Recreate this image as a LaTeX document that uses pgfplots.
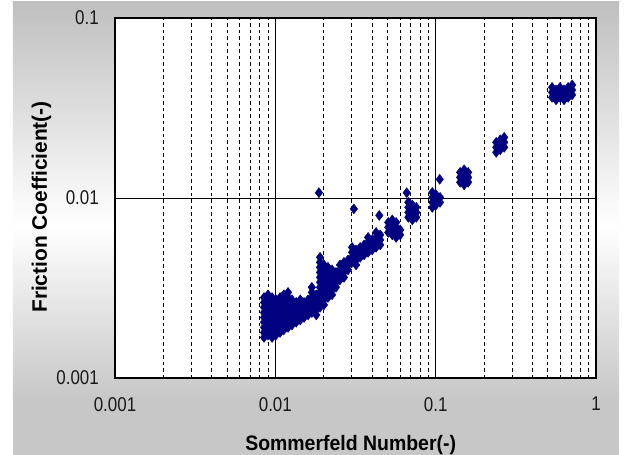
\documentclass[border=0pt]{standalone}
\usepackage{pgfplots}
\pgfplotsset{compat=1.18}
\usepackage{fontspec}
\setmainfont{Liberation Sans}
\definecolor{navy}{RGB}{0,0,128}
\begin{document}
\begin{tikzpicture}[x=1bp,y=1bp]
\path[use as bounding box] (-115,-77) rectangle (509,378);
\fill[white] (-115,-77) rectangle (509,378);
\fill[black!22] (-102,-77) rectangle (504,-22);
\shade[top color=white,bottom color=black!22] (-102,-22) rectangle (504,153);
\shade[top color=black!25,bottom color=white] (-102,153) rectangle (504,376);
\begin{axis}[
  at={(0,0)}, anchor=south west, scale only axis,
  width=481bp, height=360bp,
  xmode=log, ymode=log,
  xmin=0.001, xmax=1, ymin=0.001, ymax=0.1,
  axis background/.style={fill=white},
  axis line style={line width=2bp},
  xtick={0.001,0.01,0.1,1},
  xticklabels={\scalebox{0.85}[1]{0.001},\scalebox{0.85}[1]{0.01},\scalebox{0.85}[1]{0.1},\scalebox{0.85}[1]{1}},
  ytick={0.001,0.01,0.1},
  yticklabels={\scalebox{0.85}[1]{0.001},\scalebox{0.85}[1]{0.01},\scalebox{0.85}[1]{0.1}},
  minor xtick={0.002,0.003,0.004,0.005,0.006,0.007,0.008,0.009,0.02,0.03,0.04,0.05,0.06,0.07,0.08,0.09,0.2,0.3,0.4,0.5,0.6,0.7,0.8,0.9},
  minor ytick={},
  major tick length=0pt, minor tick length=0pt,
  xmajorgrids, xminorgrids, ymajorgrids,
  major grid style={black, line width=0.8bp, solid},
  minor grid style={black, line width=0.7bp, dash pattern=on 3.5bp off 3bp},
  tick label style={font=\fontsize{20}{20}\selectfont, inner sep=0pt, text=black!90},
  xticklabel style={anchor=north, yshift=-19bp},
  yticklabel style={anchor=east, xshift=-16bp},
  xlabel={\scalebox{0.93}[1]{Sommerfeld Number(-)}},
  ylabel={Friction Coefficient(-)},
  label style={font=\fontsize{21}{21}\selectfont\bfseries},
  xlabel style={at={(axis description cs:0.49,-0.2014)}, anchor=base},
  ylabel style={at={(axis description cs:-0.1414,0.475)}, anchor=base, rotate=0},
  clip=false,
]
\addplot[only marks, mark=diamond*, mark size=5bp, color=navy, mark options={line width=0.4bp}] coordinates {
(0.0085,0.00168)(0.0085,0.00179)(0.0085,0.00191)(0.0085,0.00204)(0.0085,0.00217)(0.0085,0.00231)(0.0085,0.00247)(0.0085,0.00263)(0.0085,0.00280)
(0.0090,0.001735)(0.0090,0.00185)(0.0090,0.00197)(0.0090,0.00210)(0.0090,0.00224)(0.0090,0.00239)(0.0090,0.00255)(0.0090,0.00272)(0.0090,0.00290)
(0.00954,0.00168)(0.00954,0.00179)(0.00954,0.00191)(0.00954,0.00204)(0.00954,0.00217)(0.00954,0.00231)(0.00954,0.00247)(0.00954,0.00263)(0.00954,0.00280)
(0.0101,0.001735)(0.0101,0.00185)(0.0101,0.00197)(0.0101,0.00210)(0.0101,0.00224)(0.0101,0.00239)(0.0101,0.00255)(0.0101,0.00272)
(0.0107,0.00179)(0.0107,0.00191)(0.0107,0.00204)(0.0107,0.00217)(0.0107,0.00231)(0.0107,0.00247)(0.0107,0.00263)(0.0107,0.00280)
(0.0113,0.00185)(0.0113,0.00197)(0.0113,0.00210)(0.0113,0.00224)(0.0113,0.00239)(0.0113,0.00255)(0.0113,0.00272)(0.0113,0.00290)
(0.0120,0.00191)(0.0120,0.00204)(0.0120,0.00217)(0.0120,0.00231)(0.0120,0.00247)(0.0120,0.00263)(0.0120,0.00280)(0.0120,0.00299)
(0.0127,0.00197)(0.0127,0.00210)(0.0127,0.00224)(0.0127,0.00239)(0.0127,0.00255)(0.0127,0.00272)
(0.0135,0.00204)(0.0135,0.00217)(0.0135,0.00231)(0.0135,0.00247)(0.0135,0.00263)
(0.0143,0.00210)(0.0143,0.00224)(0.0143,0.00239)(0.0143,0.00255)(0.0143,0.00272)
(0.0151,0.00217)(0.0151,0.00231)(0.0151,0.00247)(0.0151,0.00263)
(0.0160,0.00224)(0.0160,0.00239)(0.0160,0.00255)(0.0160,0.00272)
(0.0169,0.00231)(0.0169,0.00247)(0.0169,0.00263)(0.0169,0.00280)(0.0169,0.00299)(0.0169,0.00319)
(0.0180,0.00224)(0.0180,0.00239)(0.0180,0.00255)(0.0180,0.00272)(0.0180,0.00290)
(0.0190,0.00247)(0.0190,0.00263)(0.0190,0.00280)(0.0190,0.00299)(0.0190,0.00319)(0.0190,0.00340)(0.0190,0.00362)(0.0190,0.00386)(0.0190,0.00412)(0.0190,0.00439)(0.0190,0.00468)
(0.0201,0.00255)(0.0201,0.00272)(0.0201,0.00290)(0.0201,0.00309)(0.0201,0.00329)(0.0201,0.00351)(0.0201,0.00374)(0.0201,0.00399)(0.0201,0.00425)
(0.0213,0.00280)(0.0213,0.00299)(0.0213,0.00319)(0.0213,0.00340)(0.0213,0.00362)(0.0213,0.00386)(0.0213,0.00412)
(0.0226,0.00290)(0.0226,0.00309)(0.0226,0.00329)(0.0226,0.00351)(0.0226,0.00374)(0.0226,0.00399)
(0.0239,0.00319)(0.0239,0.00340)(0.0239,0.00362)(0.0239,0.00386)
(0.0253,0.00351)(0.0253,0.00374)(0.0253,0.00399)(0.0253,0.00425)
(0.0268,0.00362)(0.0268,0.00386)(0.0268,0.00412)(0.0268,0.00439)
(0.0284,0.00399)(0.0284,0.00425)(0.0284,0.00453)
(0.0301,0.00439)(0.0301,0.00468)(0.0301,0.00499)(0.0301,0.00532)
(0.0319,0.00425)(0.0319,0.00453)(0.0319,0.00483)(0.0319,0.00515)
(0.0338,0.00468)(0.0338,0.00499)(0.0338,0.00532)
(0.0358,0.00483)(0.0358,0.00515)(0.0358,0.00549)
(0.0379,0.00499)(0.0379,0.00532)(0.0379,0.00567)(0.0379,0.00604)
(0.0402,0.00515)(0.0402,0.00549)(0.0402,0.00585)
(0.0425,0.00532)(0.0425,0.00567)(0.0425,0.00604)(0.0425,0.00644)
(0.0451,0.00549)(0.0451,0.00585)(0.0451,0.00624)
(0.0506,0.00644)(0.0506,0.00687)(0.0506,0.00732)
(0.0536,0.00624)(0.0536,0.00665)(0.0536,0.00709)(0.0536,0.00756)
(0.0567,0.00604)(0.0567,0.00644)(0.0567,0.00687)(0.0567,0.00732)
(0.0601,0.00624)(0.0601,0.00665)
(0.0675,0.00781)(0.0675,0.00832)(0.0675,0.00887)(0.0675,0.00946)
(0.0715,0.00756)(0.0715,0.00806)(0.0715,0.00859)(0.0715,0.00916)
(0.0757,0.00781)(0.0757,0.00832)(0.0757,0.00887)
(0.0953,0.00887)(0.0953,0.00946)(0.0953,0.01008)(0.0953,0.01075)
(0.1006,0.00916)(0.1006,0.00977)(0.1006,0.01041)
(0.1065,0.00946)(0.1065,0.01008)
(0.1421,0.01222)(0.1421,0.01302)(0.1421,0.01388)
(0.1505,0.01183)(0.1505,0.01262)(0.1505,0.01345)(0.1505,0.01434)
(0.1594,0.01222)(0.1594,0.01302)(0.1594,0.01388)
(0.2386,0.01793)(0.2386,0.01912)(0.2386,0.02038)
(0.2527,0.01852)(0.2527,0.01974)(0.2527,0.02104)
(0.2677,0.01912)(0.2677,0.02038)(0.2677,0.02173)
(0.532,0.03622)(0.532,0.03861)(0.532,0.04116)
(0.564,0.03508)(0.564,0.03740)(0.564,0.03987)
(0.597,0.03622)(0.597,0.03861)(0.597,0.04116)
(0.632,0.03508)(0.632,0.03740)(0.632,0.03987)
(0.670,0.03622)(0.670,0.03861)(0.670,0.04116)
(0.710,0.03740)(0.710,0.03987)(0.710,0.04250)
(0.0187,0.0107)(0.0309,0.0087)(0.0445,0.0080)(0.066,0.0107)(0.106,0.0127)
};
\end{axis}
\end{tikzpicture}
\end{document}
